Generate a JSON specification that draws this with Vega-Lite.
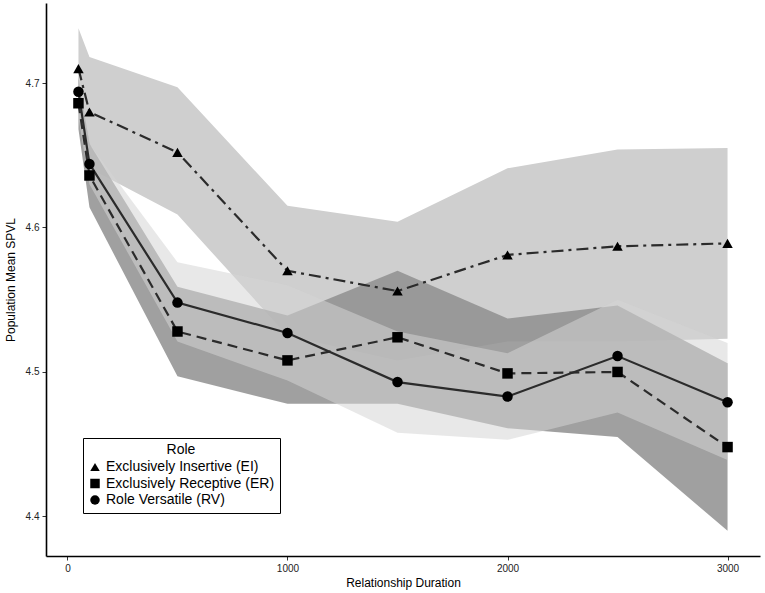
{
  "$schema": "https://vega.github.io/schema/vega-lite/v6.json",
  "autosize": "none",
  "width": 714,
  "height": 553,
  "padding": {"left": 46, "top": 3, "right": 5, "bottom": 37},
  "background": "white",
  "config": {
    "font": "Liberation Sans",
    "view": {"stroke": null},
    "axis": {"grid": false, "domainColor": "black", "domainWidth": 1.6, "tickColor": "#333333", "tickWidth": 1, "tickSize": 4, "labelFontSize": 10, "labelColor": "#222222", "titleFontSize": 12, "titleFontWeight": "normal", "titleColor": "black", "labelFont": "Liberation Sans", "titleFont": "Liberation Sans"}
  },
  "data": {"values": [
    {"x": 50, "role": "Exclusively Insertive (EI)", "mean": 4.710, "lo": 4.682, "hi": 4.738},
    {"x": 100, "role": "Exclusively Insertive (EI)", "mean": 4.680, "lo": 4.641, "hi": 4.718},
    {"x": 500, "role": "Exclusively Insertive (EI)", "mean": 4.652, "lo": 4.609, "hi": 4.697},
    {"x": 1000, "role": "Exclusively Insertive (EI)", "mean": 4.570, "lo": 4.525, "hi": 4.615},
    {"x": 1500, "role": "Exclusively Insertive (EI)", "mean": 4.556, "lo": 4.508, "hi": 4.604},
    {"x": 2000, "role": "Exclusively Insertive (EI)", "mean": 4.581, "lo": 4.521, "hi": 4.641},
    {"x": 2500, "role": "Exclusively Insertive (EI)", "mean": 4.587, "lo": 4.521, "hi": 4.654},
    {"x": 3000, "role": "Exclusively Insertive (EI)", "mean": 4.589, "lo": 4.523, "hi": 4.655},
    {"x": 50, "role": "Exclusively Receptive (ER)", "mean": 4.686, "lo": 4.668, "hi": 4.704},
    {"x": 100, "role": "Exclusively Receptive (ER)", "mean": 4.636, "lo": 4.614, "hi": 4.658},
    {"x": 500, "role": "Exclusively Receptive (ER)", "mean": 4.528, "lo": 4.497, "hi": 4.559},
    {"x": 1000, "role": "Exclusively Receptive (ER)", "mean": 4.508, "lo": 4.478, "hi": 4.539},
    {"x": 1500, "role": "Exclusively Receptive (ER)", "mean": 4.524, "lo": 4.478, "hi": 4.570},
    {"x": 2000, "role": "Exclusively Receptive (ER)", "mean": 4.499, "lo": 4.461, "hi": 4.537},
    {"x": 2500, "role": "Exclusively Receptive (ER)", "mean": 4.500, "lo": 4.455, "hi": 4.546},
    {"x": 3000, "role": "Exclusively Receptive (ER)", "mean": 4.448, "lo": 4.390, "hi": 4.506},
    {"x": 50, "role": "Role Versatile (RV)", "mean": 4.694, "lo": 4.676, "hi": 4.712},
    {"x": 100, "role": "Role Versatile (RV)", "mean": 4.644, "lo": 4.630, "hi": 4.658},
    {"x": 500, "role": "Role Versatile (RV)", "mean": 4.548, "lo": 4.521, "hi": 4.576},
    {"x": 1000, "role": "Role Versatile (RV)", "mean": 4.527, "lo": 4.494, "hi": 4.560},
    {"x": 1500, "role": "Role Versatile (RV)", "mean": 4.493, "lo": 4.458, "hi": 4.528},
    {"x": 2000, "role": "Role Versatile (RV)", "mean": 4.483, "lo": 4.453, "hi": 4.513},
    {"x": 2500, "role": "Role Versatile (RV)", "mean": 4.511, "lo": 4.472, "hi": 4.550},
    {"x": 3000, "role": "Role Versatile (RV)", "mean": 4.479, "lo": 4.439, "hi": 4.520}
  ]},
  "encoding": {
    "x": {"field": "x", "type": "quantitative", "title": "Relationship Duration",
      "scale": {"domain": [-97.5, 3147.5], "nice": false, "zero": false},
      "axis": {"values": [0, 1000, 2000, 3000], "format": "d", "labelPadding": 3, "titlePadding": 4}},
    "y": {"field": "mean", "type": "quantitative", "title": "Population Mean SPVL",
      "scale": {"domain": [4.3726, 4.7554], "nice": false, "zero": false},
      "axis": {"values": [4.4, 4.5, 4.6, 4.7], "format": ".1f", "labelPadding": 3, "titlePadding": 8}}
  },
  "layer": [
    {"transform": [{"filter": "datum.role === 'Exclusively Insertive (EI)'"}],
     "mark": {"type": "area", "fill": "#cfcfcf", "opacity": 1, "stroke": null},
     "encoding": {"y": {"field": "lo", "type": "quantitative"}, "y2": {"field": "hi"}}},
    {"transform": [{"filter": "datum.role === 'Exclusively Receptive (ER)'"}],
     "mark": {"type": "area", "fill": "#8f8f8f", "opacity": 0.85, "stroke": null},
     "encoding": {"y": {"field": "lo", "type": "quantitative"}, "y2": {"field": "hi"}}},
    {"transform": [{"filter": "datum.role === 'Role Versatile (RV)'"}],
     "mark": {"type": "area", "fill": "#d4d4d4", "opacity": 0.54, "stroke": null},
     "encoding": {"y": {"field": "lo", "type": "quantitative"}, "y2": {"field": "hi"}}},
    {"transform": [{"filter": "datum.role === 'Exclusively Insertive (EI)'"}],
     "mark": {"type": "line", "color": "#2b2b2b", "strokeWidth": 2.2, "strokeDash": [12, 5, 3, 5]},
     "encoding": {}},
    {"transform": [{"filter": "datum.role === 'Exclusively Receptive (ER)'"}],
     "mark": {"type": "line", "color": "#2b2b2b", "strokeWidth": 2.2, "strokeDash": [10, 6]},
     "encoding": {}},
    {"transform": [{"filter": "datum.role === 'Role Versatile (RV)'"}],
     "mark": {"type": "line", "color": "#2b2b2b", "strokeWidth": 2.2},
     "encoding": {}},
    {"mark": {"type": "point", "filled": true, "color": "black", "opacity": 1, "size": 110},
     "encoding": {
       "shape": {"field": "role", "type": "nominal", "title": "Role",
         "scale": {"domain": ["Exclusively Insertive (EI)", "Exclusively Receptive (ER)", "Role Versatile (RV)"],
                   "range": ["triangle-up", "square", "circle"]},
         "legend": {"orient": "none", "legendX": 37, "legendY": 435, "titleFontSize": 14, "titleFontWeight": "normal", "titleColor": "black", "titleAnchor": "middle", "titleFont": "Liberation Sans", "titlePadding": 3,
           "labelFontSize": 14, "labelColor": "black", "labelFont": "Liberation Sans", "labelLimit": 400, "symbolFillColor": "black", "symbolStrokeColor": "black", "symbolSize": 90, "symbolOpacity": 1,
           "strokeColor": "black", "fillColor": "white", "padding": 5, "rowPadding": 0.5, "labelOffset": 4,
           "encode": {"legend": {"update": {"strokeWidth": {"value": 2}}}}}}
     }}
  ]
}
